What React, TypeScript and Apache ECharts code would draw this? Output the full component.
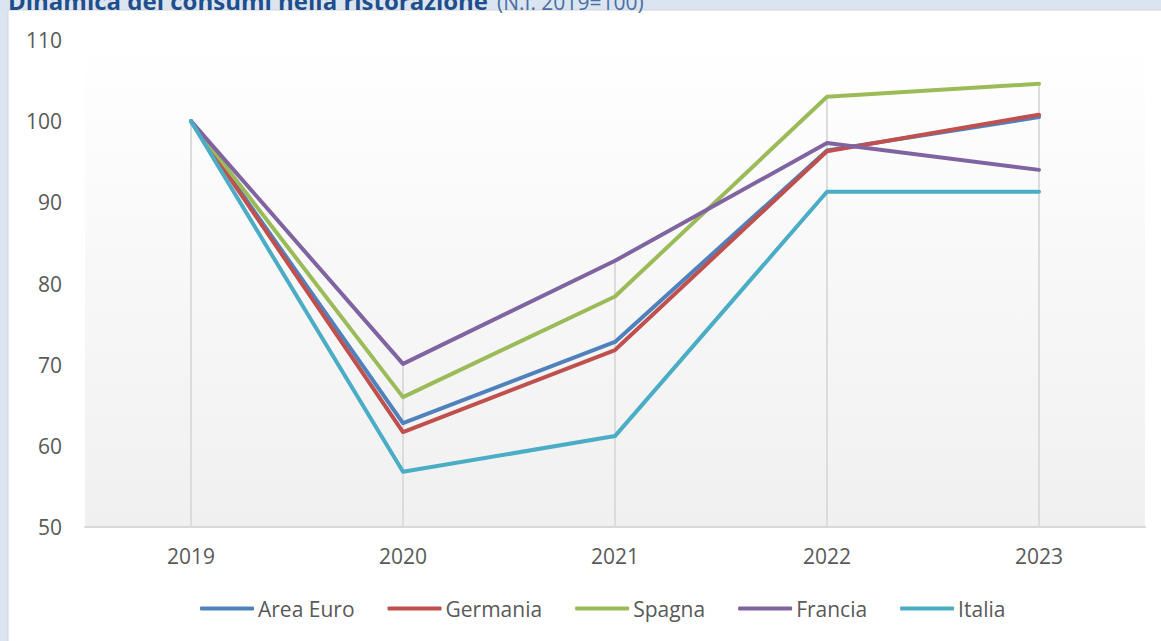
import React, { useEffect, useRef } from "react";
import * as echarts from "echarts";

const categories = ["2019", "2020", "2021", "2022", "2023"];
const areaEuro = [100, 62.8, 72.8, 96.4, 100.5];
const germania = [100, 61.7, 71.8, 96.3, 100.8];
const spagna = [100, 66.0, 78.4, 103.0, 104.6];
const francia = [100, 70.1, 82.8, 97.3, 94.0];
const italia = [100, 56.8, 61.2, 91.3, 91.3];
const seriesNames = ["Area Euro", "Germania", "Spagna", "Francia", "Italia"];
const seriesColors = ["#4f81bd", "#c0504d", "#9bbb59", "#8064a2", "#4bacc6"];
const yMin = 50;
const yMax = 110;
const yInterval = 10;
const titleMain = "Dinamica dei consumi nella ristorazione";
const titleSub = "(N.I. 2019=100)";

export default function App() {
  const ref = useRef<HTMLDivElement>(null);
  useEffect(() => {
    if (!ref.current) return;
    const chart = echarts.init(ref.current, null, { renderer: "svg" });
    const allSeries = [areaEuro, germania, spagna, francia, italia];
    const dropData = categories.map((_, i) => [i, Math.max(...allSeries.map((s) => s[i]))]);
    const font = "'Open Sans', sans-serif";
    chart.setOption({
      animation: false,
      backgroundColor: "#dbe5f1",
      graphic: [
        { type: "rect", shape: { x: 8, y: 10, width: 1160, height: 640 }, style: { fill: "#ffffff", stroke: "#d4d4d4", lineWidth: 1 }, z: -10 },
        {
          type: "text",
          x: 8,
          y: 12,
          style: {
            text: titleMain,
            font: "bold 24px 'Open Sans', sans-serif",
            fill: "#1f4e8c",
            verticalAlign: "bottom",
          },
        },
        {
          type: "text",
          x: 497,
          y: 12,
          style: {
            text: titleSub,
            font: "21px 'Open Sans', sans-serif",
            fill: "#4a6fa5",
            verticalAlign: "bottom",
          },
        },
      ],
      grid: {
        left: 85,
        right: 16,
        top: 40,
        bottom: 114,
        show: true,
        borderWidth: 0,
        backgroundColor: new echarts.graphic.LinearGradient(0, 0, 0, 1, [
          { offset: 0, color: "#ffffff" },
          { offset: 1, color: "#f0f0f0" },
        ]),
      },
      legend: {
        data: seriesNames,
        bottom: 17,
        left: 195,
        icon: "roundRect",
        itemWidth: 54,
        itemHeight: 4,
        itemGap: 33,
        textStyle: { fontFamily: font, fontSize: 21, color: "#595959", padding: [0, 0, 0, -1] },
      },
      xAxis: {
        type: "category",
        data: categories,
        boundaryGap: true,
        axisLine: { lineStyle: { color: "#d9d9d9", width: 2 } },
        axisTick: { show: false },
        axisLabel: { fontFamily: font, fontSize: 21, color: "#595959", margin: 18 },
        splitLine: { show: false },
      },
      yAxis: {
        type: "value",
        min: yMin,
        max: yMax,
        interval: yInterval,
        axisLine: { show: false },
        axisTick: { show: false },
        splitLine: { show: false },
        axisLabel: { fontFamily: font, fontSize: 21, color: "#595959", margin: 23 },
      },
      series: [
        {
          type: "custom",
          name: "drop",
          data: dropData,
          z: 1,
          silent: true,
          renderItem: (params: any, api: any) => {
            const top = api.coord([api.value(0), api.value(1)]);
            const bottom = api.coord([api.value(0), yMin]);
            return {
              type: "line",
              shape: { x1: top[0], y1: top[1], x2: bottom[0], y2: bottom[1] },
              style: { stroke: "#dcdcdc", lineWidth: 2 },
            };
          },
        },
        ...allSeries.map((d, i) => ({
          type: "line",
          name: seriesNames[i],
          data: d,
          z: 3,
          symbol: "none",
          color: seriesColors[i],
          lineStyle: { width: 4, color: seriesColors[i], cap: "round", join: "round" },
        })),
      ],
    });
    return () => chart.dispose();
  }, []);
  return (
    <div
      ref={ref}
      style={{ position: "absolute", left: 0, top: 0, width: 1161, height: 641 }}
    />
  );
}
